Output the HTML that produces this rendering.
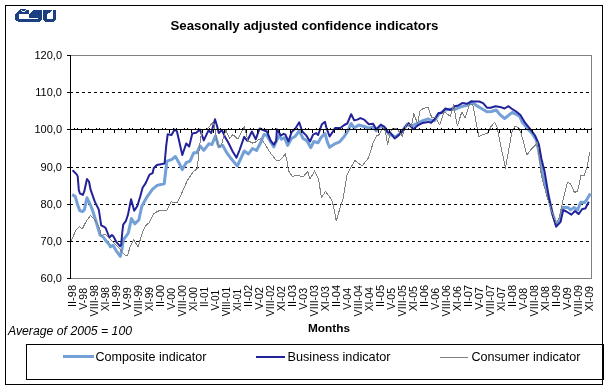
<!DOCTYPE html>
<html><head><meta charset="utf-8"><title>Seasonally adjusted confidence indicators</title>
<style>html,body{margin:0;padding:0;background:#fff;width:609px;height:390px;overflow:hidden}svg{display:block;will-change:transform}text{fill:#000}</style>
</head><body>
<svg width="609" height="390" viewBox="0 0 609 390"><rect x="5.5" y="5.5" width="597" height="379" fill="none" stroke="#000" stroke-width="1"/>
<rect x="20" y="9" width="6" height="1" fill="#1b3f80"/>
<rect x="19" y="10" width="2" height="1" fill="#1b3f80"/>
<rect x="22" y="10" width="3" height="1" fill="#1b3f80"/>
<rect x="26" y="10" width="3" height="1" fill="#1b3f80"/>
<rect x="33" y="10" width="9" height="1" fill="#1b3f80"/>
<rect x="43" y="10" width="9" height="1" fill="#1b3f80"/>
<rect x="53" y="10" width="3" height="1" fill="#1b3f80"/>
<rect x="18" y="11" width="4" height="1" fill="#1b3f80"/>
<rect x="25" y="11" width="4" height="1" fill="#1b3f80"/>
<rect x="32" y="11" width="10" height="1" fill="#1b3f80"/>
<rect x="43" y="11" width="8" height="1" fill="#1b3f80"/>
<rect x="53" y="11" width="3" height="1" fill="#1b3f80"/>
<rect x="17" y="12" width="12" height="1" fill="#1b3f80"/>
<rect x="31" y="12" width="11" height="1" fill="#1b3f80"/>
<rect x="43" y="12" width="7" height="1" fill="#1b3f80"/>
<rect x="53" y="12" width="3" height="1" fill="#1b3f80"/>
<rect x="16" y="13" width="13" height="1" fill="#1b3f80"/>
<rect x="30" y="13" width="12" height="1" fill="#1b3f80"/>
<rect x="43" y="13" width="5" height="1" fill="#1b3f80"/>
<rect x="53" y="13" width="3" height="1" fill="#1b3f80"/>
<rect x="15" y="14" width="4" height="1" fill="#1b3f80"/>
<rect x="29" y="14" width="13" height="1" fill="#1b3f80"/>
<rect x="43" y="14" width="4" height="1" fill="#1b3f80"/>
<rect x="53" y="14" width="3" height="1" fill="#1b3f80"/>
<rect x="15" y="15" width="4" height="1" fill="#1b3f80"/>
<rect x="29" y="15" width="13" height="1" fill="#1b3f80"/>
<rect x="43" y="15" width="4" height="1" fill="#1b3f80"/>
<rect x="53" y="15" width="3" height="1" fill="#1b3f80"/>
<rect x="15" y="16" width="4" height="1" fill="#1b3f80"/>
<rect x="29" y="16" width="13" height="1" fill="#1b3f80"/>
<rect x="43" y="16" width="4" height="1" fill="#1b3f80"/>
<rect x="53" y="16" width="3" height="1" fill="#1b3f80"/>
<rect x="15" y="17" width="4" height="1" fill="#1b3f80"/>
<rect x="29" y="17" width="13" height="1" fill="#1b3f80"/>
<rect x="43" y="17" width="4" height="1" fill="#1b3f80"/>
<rect x="53" y="17" width="3" height="1" fill="#1b3f80"/>
<rect x="15" y="18" width="4" height="1" fill="#1b3f80"/>
<rect x="38" y="18" width="4" height="1" fill="#1b3f80"/>
<rect x="43" y="18" width="4" height="1" fill="#1b3f80"/>
<rect x="53" y="18" width="3" height="1" fill="#1b3f80"/>
<rect x="15" y="19" width="27" height="1" fill="#1b3f80"/>
<rect x="43" y="19" width="13" height="1" fill="#1b3f80"/>
<rect x="16" y="20" width="25" height="1" fill="#1b3f80"/>
<rect x="44" y="20" width="11" height="1" fill="#1b3f80"/>
<rect x="18" y="21" width="22" height="1" fill="#1b3f80"/>
<rect x="45" y="21" width="9" height="1" fill="#1b3f80"/>
<text x="304.5" y="30" text-anchor="middle" textLength="268" lengthAdjust="spacingAndGlyphs" style="font:bold 13.5px 'Liberation Sans'">Seasonally adjusted confidence indicators</text>
<rect x="70.5" y="55.5" width="521" height="223" fill="none" stroke="#808080" stroke-width="1" shape-rendering="crispEdges"/>
<line x1="70" y1="92.5" x2="591" y2="92.5" stroke="#000" stroke-width="1" stroke-dasharray="3 3" shape-rendering="crispEdges"/>
<line x1="70" y1="167.5" x2="591" y2="167.5" stroke="#000" stroke-width="1" stroke-dasharray="3 3" shape-rendering="crispEdges"/>
<line x1="70" y1="204.5" x2="591" y2="204.5" stroke="#000" stroke-width="1" stroke-dasharray="3 3" shape-rendering="crispEdges"/>
<line x1="70" y1="241.5" x2="591" y2="241.5" stroke="#000" stroke-width="1" stroke-dasharray="3 3" shape-rendering="crispEdges"/>
<polyline points="72.1,194.7 75.2,196.3 77.7,205.0 79.8,210.6 82.4,211.7 84.4,209.6 87.0,197.8 89.5,203.0 92.1,209.0 95.0,218.0 100.1,235.0 103.2,237.0 105.3,240.0 109.4,244.7 110.4,246.8 113.0,245.3 116.2,250.8 120.3,256.4 122.3,247.7 123.2,240.0 125.8,236.6 128.3,233.0 131.4,218.6 134.9,223.8 138.8,220.0 141.8,206.2 146.5,197.7 152.6,189.2 157.2,185.4 164.2,183.8 166.9,161.2 171.5,159.6 175.4,156.5 178.5,161.9 182.3,169.6 186.2,162.7 190.0,161.2 193.8,152.7 196.9,152.7 200.0,145.8 203.8,150.4 208.8,143.8 211.9,144.6 215.4,136.0 218.8,146.9 222.7,145.4 226.5,152.3 230.4,157.7 237.3,166.0 244.3,151.0 248.5,154.0 252.4,148.5 256.5,150.5 260.5,143.0 264.0,134.5 266.9,135.4 270.8,142.3 273.8,146.9 276.9,140.0 279.2,135.4 281.5,139.2 284.6,137.7 287.7,145.4 291.5,138.5 295.4,136.2 299.2,130.8 303.1,138.5 306.9,140.8 310.8,147.7 313.8,141.5 318.1,142.7 321.2,137.3 325.0,133.5 327.3,141.9 329.6,147.3 334.2,144.2 339.6,141.9 344.2,136.5 347.3,131.9 351.2,123.5 354.2,128.1 358.8,125.0 364.2,126.5 368.8,128.1 373.1,126.9 376.2,130.8 380.8,126.2 385.4,128.5 388.5,133.8 395.4,136.9 400.8,133.1 406.9,124.6 411.5,126.2 416.2,123.8 422.3,120.8 428.1,118.8 430.0,120.0 434.6,120.8 439.2,113.8 445.4,110.0 450.0,109.2 455.4,109.2 460.8,106.9 466.9,105.4 471.5,101.5 476.2,105.4 481.5,108.5 486.9,111.8 491.5,111.5 496.2,110.0 500.0,114.6 504.6,118.5 508.5,115.4 512.3,112.3 516.9,114.6 520.0,116.9 522.3,122.3 526.9,127.7 532.3,133.8 536.2,140.0 538.5,150.0 542.7,175.0 548.3,195.7 552.3,213.2 556.2,224.3 559.4,221.9 562.6,207.4 567.8,207.4 570.6,209.9 574.0,207.4 577.6,209.9 580.8,202.2 584.5,202.5 586.8,199.6 590.4,193.4" fill="none" stroke="#74a0d8" stroke-width="3" stroke-linejoin="round"/>
<polyline points="72.6,170.3 76.7,174.4 77.7,176.4 78.8,189.7 79.8,193.3 82.9,194.9 84.4,190.8 87.0,179.0 89.0,181.5 90.6,189.7 94.7,201.4 98.8,209.6 101.2,225.3 104.2,226.8 105.8,228.3 107.8,233.5 109.4,237.6 111.9,235.0 113.5,236.5 116.5,242.2 120.1,246.3 121.2,244.7 122.2,233.0 123.2,224.7 125.8,221.2 128.0,214.6 131.1,199.2 134.2,210.8 137.2,206.2 140.3,196.2 142.6,187.7 145.7,183.1 149.5,174.6 152.6,173.1 153.8,168.0 156.9,165.0 160.8,164.2 164.6,163.5 166.2,145.8 167.7,134.2 171.5,135.0 174.6,129.6 176.9,131.2 179.2,141.2 182.3,155.0 186.2,143.5 189.2,146.5 192.3,133.5 196.2,132.7 200.0,129.6 203.8,140.4 208.5,130.4 211.2,133.1 215.0,119.2 217.3,126.9 218.8,133.1 221.9,130.0 225.0,136.9 228.1,142.3 232.7,151.5 236.5,157.7 239.6,150.0 244.2,136.9 247.3,140.8 251.9,131.5 255.8,139.2 259.6,128.5 263.1,130.0 266.9,131.5 270.8,140.8 273.8,144.6 276.2,140.8 276.9,129.2 280.8,135.4 283.8,133.8 285.4,134.6 288.5,141.5 291.5,132.3 295.4,128.5 299.2,122.3 302.3,131.5 306.2,135.4 310.0,141.5 313.1,134.6 316.2,133.1 318.1,135.0 321.9,124.2 325.0,121.9 326.5,128.1 329.6,136.5 332.7,131.9 335.0,128.1 340.4,128.1 344.2,125.0 347.3,123.5 351.2,114.2 354.2,120.4 357.3,119.6 360.4,118.1 364.2,119.6 368.8,124.2 373.1,123.8 376.2,129.2 380.8,124.6 384.6,126.9 387.7,132.3 390.8,133.1 394.6,138.5 398.5,135.4 401.5,132.3 405.4,126.9 408.5,123.1 413.1,129.2 417.7,125.4 422.3,123.1 428.1,121.9 431.2,122.7 434.6,119.2 438.5,113.0 441.5,113.0 445.4,108.5 450.8,110.0 454.6,106.2 458.5,105.4 462.3,103.1 466.9,103.8 471.5,101.5 479.2,101.5 483.1,103.1 486.9,107.7 490.8,107.7 495.4,106.2 500.0,106.9 504.6,108.5 508.5,106.2 512.3,109.2 516.2,111.5 520.4,115.0 525.0,122.7 531.2,130.4 535.0,135.5 538.8,144.2 541.4,158.8 544.5,171.2 549.1,198.8 553.0,216.3 556.2,226.7 560.6,221.8 563.2,210.0 566.3,211.5 571.4,214.6 575.0,211.0 578.6,214.1 582.2,209.0 585.3,208.5 588.8,201.8" fill="none" stroke="#22229a" stroke-width="2" stroke-linejoin="round"/>
<polyline points="71.1,241.0 76.2,229.7 79.3,226.7 82.4,228.7 85.4,222.6 90.6,215.3 93.6,218.5 97.7,224.0 99.6,228.3 101.2,236.0 104.7,234.0 107.8,237.0 111.4,240.6 115.5,244.7 119.6,248.8 124.7,255.0 127.4,255.9 130.5,245.6 133.6,240.0 138.2,246.7 142.3,232.8 145.4,226.2 149.5,222.3 153.4,213.8 158.8,210.8 166.5,210.8 171.1,201.5 174.2,203.0 177.2,202.3 181.1,194.6 187.2,180.8 193.3,171.7 197.5,168.3 198.3,156.7 200.8,136.7 202.5,129.2 206.7,129.0 210.0,125.8 212.5,122.5 214.5,126.0 217.7,144.6 220.4,146.9 221.9,143.1 225.8,130.0 229.6,138.5 232.7,134.6 238.1,139.2 244.2,126.9 248.1,140.8 252.7,143.1 255.0,142.3 260.4,138.5 262.7,140.8 265.8,145.4 270.4,153.0 276.5,160.8 280.4,160.0 285.4,153.8 286.9,160.8 288.5,170.8 292.3,176.2 298.5,175.4 303.1,176.9 307.7,171.5 310.0,179.2 314.6,170.8 318.5,179.2 321.5,197.7 325.4,191.5 329.2,196.2 332.3,201.5 333.8,207.7 336.3,221.0 339.2,210.8 343.1,198.5 346.9,175.4 350.8,167.7 355.0,160.5 362.0,166.0 368.5,158.0 373.1,143.1 376.2,136.2 379.2,134.6 383.1,126.9 385.4,131.5 387.7,144.6 390.0,132.3 393.1,128.5 396.9,128.5 402.3,136.2 406.9,123.1 411.5,126.2 413.8,113.8 417.7,123.8 420.0,110.8 423.1,108.5 428.1,107.3 431.9,118.1 435.8,117.3 439.6,125.0 444.2,111.9 450.4,116.5 453.5,105.0 457.3,125.8 461.9,111.9 465.0,118.1 469.6,104.2 472.7,104.2 475.8,120.4 478.8,136.5 484.2,134.2 487.7,133.1 490.8,126.9 494.6,122.3 497.0,127.0 505.4,168.1 512.3,130.0 515.4,126.2 519.2,128.5 521.5,134.6 526.9,155.0 530.0,150.7 537.5,142.7 539.1,155.8 541.4,175.8 547.5,198.8 552.3,213.2 556.2,223.5 559.4,217.1 562.6,202.0 567.4,182.2 570.5,183.7 574.5,192.5 577.7,190.9 580.9,175.8 584.1,175.3 587.2,166.6 589.6,152.3" fill="none" stroke="#808080" stroke-width="1" stroke-linejoin="round" shape-rendering="crispEdges"/>
<line x1="70" y1="129.5" x2="592" y2="129.5" stroke="#000" stroke-width="1" shape-rendering="crispEdges"/>
<rect x="74" y="128" width="1" height="1" fill="#000"/>
<rect x="77" y="128" width="1" height="1" fill="#000"/>
<rect x="81" y="130" width="1" height="3" fill="#000"/>
<rect x="85" y="128" width="1" height="1" fill="#000"/>
<rect x="88" y="128" width="1" height="1" fill="#000"/>
<rect x="92" y="130" width="1" height="3" fill="#000"/>
<rect x="96" y="128" width="1" height="1" fill="#000"/>
<rect x="99" y="128" width="1" height="1" fill="#000"/>
<rect x="103" y="130" width="1" height="3" fill="#000"/>
<rect x="107" y="128" width="1" height="1" fill="#000"/>
<rect x="110" y="128" width="1" height="1" fill="#000"/>
<rect x="114" y="130" width="1" height="3" fill="#000"/>
<rect x="118" y="128" width="1" height="1" fill="#000"/>
<rect x="121" y="128" width="1" height="1" fill="#000"/>
<rect x="125" y="130" width="1" height="3" fill="#000"/>
<rect x="129" y="128" width="1" height="1" fill="#000"/>
<rect x="132" y="128" width="1" height="1" fill="#000"/>
<rect x="136" y="130" width="1" height="3" fill="#000"/>
<rect x="140" y="128" width="1" height="1" fill="#000"/>
<rect x="143" y="128" width="1" height="1" fill="#000"/>
<rect x="147" y="130" width="1" height="3" fill="#000"/>
<rect x="151" y="128" width="1" height="1" fill="#000"/>
<rect x="154" y="128" width="1" height="1" fill="#000"/>
<rect x="158" y="130" width="1" height="3" fill="#000"/>
<rect x="162" y="128" width="1" height="1" fill="#000"/>
<rect x="165" y="128" width="1" height="1" fill="#000"/>
<rect x="169" y="130" width="1" height="3" fill="#000"/>
<rect x="173" y="128" width="1" height="1" fill="#000"/>
<rect x="176" y="128" width="1" height="1" fill="#000"/>
<rect x="180" y="130" width="1" height="3" fill="#000"/>
<rect x="184" y="128" width="1" height="1" fill="#000"/>
<rect x="187" y="128" width="1" height="1" fill="#000"/>
<rect x="191" y="130" width="1" height="3" fill="#000"/>
<rect x="195" y="128" width="1" height="1" fill="#000"/>
<rect x="198" y="128" width="1" height="1" fill="#000"/>
<rect x="202" y="130" width="1" height="3" fill="#000"/>
<rect x="206" y="128" width="1" height="1" fill="#000"/>
<rect x="209" y="128" width="1" height="1" fill="#000"/>
<rect x="213" y="130" width="1" height="3" fill="#000"/>
<rect x="217" y="128" width="1" height="1" fill="#000"/>
<rect x="220" y="128" width="1" height="1" fill="#000"/>
<rect x="224" y="130" width="1" height="3" fill="#000"/>
<rect x="228" y="128" width="1" height="1" fill="#000"/>
<rect x="231" y="128" width="1" height="1" fill="#000"/>
<rect x="235" y="130" width="1" height="3" fill="#000"/>
<rect x="239" y="128" width="1" height="1" fill="#000"/>
<rect x="242" y="128" width="1" height="1" fill="#000"/>
<rect x="246" y="130" width="1" height="3" fill="#000"/>
<rect x="250" y="128" width="1" height="1" fill="#000"/>
<rect x="253" y="128" width="1" height="1" fill="#000"/>
<rect x="257" y="130" width="1" height="3" fill="#000"/>
<rect x="261" y="128" width="1" height="1" fill="#000"/>
<rect x="264" y="128" width="1" height="1" fill="#000"/>
<rect x="268" y="130" width="1" height="3" fill="#000"/>
<rect x="272" y="128" width="1" height="1" fill="#000"/>
<rect x="275" y="128" width="1" height="1" fill="#000"/>
<rect x="279" y="130" width="1" height="3" fill="#000"/>
<rect x="283" y="128" width="1" height="1" fill="#000"/>
<rect x="286" y="128" width="1" height="1" fill="#000"/>
<rect x="290" y="130" width="1" height="3" fill="#000"/>
<rect x="294" y="128" width="1" height="1" fill="#000"/>
<rect x="297" y="128" width="1" height="1" fill="#000"/>
<rect x="301" y="130" width="1" height="3" fill="#000"/>
<rect x="305" y="128" width="1" height="1" fill="#000"/>
<rect x="308" y="128" width="1" height="1" fill="#000"/>
<rect x="312" y="130" width="1" height="3" fill="#000"/>
<rect x="316" y="128" width="1" height="1" fill="#000"/>
<rect x="319" y="128" width="1" height="1" fill="#000"/>
<rect x="323" y="130" width="1" height="3" fill="#000"/>
<rect x="327" y="128" width="1" height="1" fill="#000"/>
<rect x="330" y="128" width="1" height="1" fill="#000"/>
<rect x="334" y="130" width="1" height="3" fill="#000"/>
<rect x="338" y="128" width="1" height="1" fill="#000"/>
<rect x="342" y="128" width="1" height="1" fill="#000"/>
<rect x="345" y="130" width="1" height="3" fill="#000"/>
<rect x="349" y="128" width="1" height="1" fill="#000"/>
<rect x="353" y="128" width="1" height="1" fill="#000"/>
<rect x="356" y="130" width="1" height="3" fill="#000"/>
<rect x="360" y="128" width="1" height="1" fill="#000"/>
<rect x="364" y="128" width="1" height="1" fill="#000"/>
<rect x="367" y="130" width="1" height="3" fill="#000"/>
<rect x="371" y="128" width="1" height="1" fill="#000"/>
<rect x="375" y="128" width="1" height="1" fill="#000"/>
<rect x="378" y="130" width="1" height="3" fill="#000"/>
<rect x="382" y="128" width="1" height="1" fill="#000"/>
<rect x="386" y="128" width="1" height="1" fill="#000"/>
<rect x="389" y="130" width="1" height="3" fill="#000"/>
<rect x="393" y="128" width="1" height="1" fill="#000"/>
<rect x="397" y="128" width="1" height="1" fill="#000"/>
<rect x="400" y="130" width="1" height="3" fill="#000"/>
<rect x="404" y="128" width="1" height="1" fill="#000"/>
<rect x="408" y="128" width="1" height="1" fill="#000"/>
<rect x="411" y="130" width="1" height="3" fill="#000"/>
<rect x="415" y="128" width="1" height="1" fill="#000"/>
<rect x="419" y="128" width="1" height="1" fill="#000"/>
<rect x="422" y="130" width="1" height="3" fill="#000"/>
<rect x="426" y="128" width="1" height="1" fill="#000"/>
<rect x="430" y="128" width="1" height="1" fill="#000"/>
<rect x="433" y="130" width="1" height="3" fill="#000"/>
<rect x="437" y="128" width="1" height="1" fill="#000"/>
<rect x="441" y="128" width="1" height="1" fill="#000"/>
<rect x="444" y="130" width="1" height="3" fill="#000"/>
<rect x="448" y="128" width="1" height="1" fill="#000"/>
<rect x="452" y="128" width="1" height="1" fill="#000"/>
<rect x="455" y="130" width="1" height="3" fill="#000"/>
<rect x="459" y="128" width="1" height="1" fill="#000"/>
<rect x="463" y="128" width="1" height="1" fill="#000"/>
<rect x="466" y="130" width="1" height="3" fill="#000"/>
<rect x="470" y="128" width="1" height="1" fill="#000"/>
<rect x="474" y="128" width="1" height="1" fill="#000"/>
<rect x="477" y="130" width="1" height="3" fill="#000"/>
<rect x="481" y="128" width="1" height="1" fill="#000"/>
<rect x="485" y="128" width="1" height="1" fill="#000"/>
<rect x="488" y="130" width="1" height="3" fill="#000"/>
<rect x="492" y="128" width="1" height="1" fill="#000"/>
<rect x="496" y="128" width="1" height="1" fill="#000"/>
<rect x="499" y="130" width="1" height="3" fill="#000"/>
<rect x="503" y="128" width="1" height="1" fill="#000"/>
<rect x="507" y="128" width="1" height="1" fill="#000"/>
<rect x="510" y="130" width="1" height="3" fill="#000"/>
<rect x="514" y="128" width="1" height="1" fill="#000"/>
<rect x="518" y="128" width="1" height="1" fill="#000"/>
<rect x="521" y="130" width="1" height="3" fill="#000"/>
<rect x="525" y="128" width="1" height="1" fill="#000"/>
<rect x="529" y="128" width="1" height="1" fill="#000"/>
<rect x="532" y="130" width="1" height="3" fill="#000"/>
<rect x="536" y="128" width="1" height="1" fill="#000"/>
<rect x="540" y="128" width="1" height="1" fill="#000"/>
<rect x="543" y="130" width="1" height="3" fill="#000"/>
<rect x="547" y="128" width="1" height="1" fill="#000"/>
<rect x="551" y="128" width="1" height="1" fill="#000"/>
<rect x="554" y="130" width="1" height="3" fill="#000"/>
<rect x="558" y="128" width="1" height="1" fill="#000"/>
<rect x="562" y="128" width="1" height="1" fill="#000"/>
<rect x="565" y="130" width="1" height="3" fill="#000"/>
<rect x="569" y="128" width="1" height="1" fill="#000"/>
<rect x="573" y="128" width="1" height="1" fill="#000"/>
<rect x="576" y="130" width="1" height="3" fill="#000"/>
<rect x="580" y="128" width="1" height="1" fill="#000"/>
<rect x="584" y="128" width="1" height="1" fill="#000"/>
<rect x="587" y="130" width="1" height="3" fill="#000"/>
<rect x="591" y="128" width="1" height="1" fill="#000"/>
<rect x="70" y="55" width="1" height="224" fill="#000"/>
<rect x="67" y="55" width="3" height="1" fill="#000"/>
<text x="62" y="59" text-anchor="end" style="font:11px 'Liberation Sans'">120,0</text>
<rect x="67" y="92" width="3" height="1" fill="#000"/>
<text x="62" y="96" text-anchor="end" style="font:11px 'Liberation Sans'">110,0</text>
<rect x="67" y="129" width="3" height="1" fill="#000"/>
<text x="62" y="133" text-anchor="end" style="font:11px 'Liberation Sans'">100,0</text>
<rect x="67" y="167" width="3" height="1" fill="#000"/>
<text x="62" y="171" text-anchor="end" style="font:11px 'Liberation Sans'">90,0</text>
<rect x="67" y="204" width="3" height="1" fill="#000"/>
<text x="62" y="208" text-anchor="end" style="font:11px 'Liberation Sans'">80,0</text>
<rect x="67" y="241" width="3" height="1" fill="#000"/>
<text x="62" y="245" text-anchor="end" style="font:11px 'Liberation Sans'">70,0</text>
<rect x="67" y="278" width="3" height="1" fill="#000"/>
<text x="62" y="282" text-anchor="end" style="font:11px 'Liberation Sans'">60,0</text>
<text transform="translate(75.83,285) rotate(-90) scale(1.000,1)" text-anchor="end" style="font:11px 'Liberation Sans'">II-98</text>
<text transform="translate(86.84,288) rotate(-90) scale(0.957,1)" text-anchor="end" style="font:11px 'Liberation Sans'">V-98</text>
<text transform="translate(97.85,285) rotate(-90) scale(0.969,1)" text-anchor="end" style="font:11px 'Liberation Sans'">VIII-98</text>
<text transform="translate(108.86,287) rotate(-90) scale(0.923,1)" text-anchor="end" style="font:11px 'Liberation Sans'">XI-98</text>
<text transform="translate(119.86,285) rotate(-90) scale(1.000,1)" text-anchor="end" style="font:11px 'Liberation Sans'">II-99</text>
<text transform="translate(130.87,287) rotate(-90) scale(1.000,1)" text-anchor="end" style="font:11px 'Liberation Sans'">V-99</text>
<text transform="translate(141.88,285) rotate(-90) scale(0.969,1)" text-anchor="end" style="font:11px 'Liberation Sans'">VIII-99</text>
<text transform="translate(152.88,287) rotate(-90) scale(0.923,1)" text-anchor="end" style="font:11px 'Liberation Sans'">XI-99</text>
<text transform="translate(163.89,285) rotate(-90) scale(1.000,1)" text-anchor="end" style="font:11px 'Liberation Sans'">II-00</text>
<text transform="translate(174.90,288) rotate(-90) scale(0.957,1)" text-anchor="end" style="font:11px 'Liberation Sans'">V-00</text>
<text transform="translate(185.90,285) rotate(-90) scale(0.969,1)" text-anchor="end" style="font:11px 'Liberation Sans'">VIII-00</text>
<text transform="translate(196.91,287) rotate(-90) scale(0.923,1)" text-anchor="end" style="font:11px 'Liberation Sans'">XI-00</text>
<text transform="translate(207.92,287) rotate(-90) scale(0.905,1)" text-anchor="end" style="font:11px 'Liberation Sans'">II-01</text>
<text transform="translate(218.93,290) rotate(-90) scale(0.909,1)" text-anchor="end" style="font:11px 'Liberation Sans'">V-01</text>
<text transform="translate(229.93,287) rotate(-90) scale(0.906,1)" text-anchor="end" style="font:11px 'Liberation Sans'">VIII-01</text>
<text transform="translate(240.94,289) rotate(-90) scale(0.846,1)" text-anchor="end" style="font:11px 'Liberation Sans'">XI-01</text>
<text transform="translate(251.95,285) rotate(-90) scale(1.000,1)" text-anchor="end" style="font:11px 'Liberation Sans'">II-02</text>
<text transform="translate(262.95,287) rotate(-90) scale(1.000,1)" text-anchor="end" style="font:11px 'Liberation Sans'">V-02</text>
<text transform="translate(273.96,285) rotate(-90) scale(0.969,1)" text-anchor="end" style="font:11px 'Liberation Sans'">VIII-02</text>
<text transform="translate(284.97,286) rotate(-90) scale(0.962,1)" text-anchor="end" style="font:11px 'Liberation Sans'">XI-02</text>
<text transform="translate(295.98,285) rotate(-90) scale(1.000,1)" text-anchor="end" style="font:11px 'Liberation Sans'">II-03</text>
<text transform="translate(306.98,288) rotate(-90) scale(0.957,1)" text-anchor="end" style="font:11px 'Liberation Sans'">V-03</text>
<text transform="translate(317.99,285) rotate(-90) scale(0.969,1)" text-anchor="end" style="font:11px 'Liberation Sans'">VIII-03</text>
<text transform="translate(329.00,286) rotate(-90) scale(0.962,1)" text-anchor="end" style="font:11px 'Liberation Sans'">XI-03</text>
<text transform="translate(340.00,285) rotate(-90) scale(1.000,1)" text-anchor="end" style="font:11px 'Liberation Sans'">II-04</text>
<text transform="translate(351.01,288) rotate(-90) scale(0.957,1)" text-anchor="end" style="font:11px 'Liberation Sans'">V-04</text>
<text transform="translate(362.02,285) rotate(-90) scale(0.969,1)" text-anchor="end" style="font:11px 'Liberation Sans'">VIII-04</text>
<text transform="translate(373.02,287) rotate(-90) scale(0.923,1)" text-anchor="end" style="font:11px 'Liberation Sans'">XI-04</text>
<text transform="translate(384.03,285) rotate(-90) scale(1.000,1)" text-anchor="end" style="font:11px 'Liberation Sans'">II-05</text>
<text transform="translate(395.04,288) rotate(-90) scale(0.957,1)" text-anchor="end" style="font:11px 'Liberation Sans'">V-05</text>
<text transform="translate(406.05,285) rotate(-90) scale(0.969,1)" text-anchor="end" style="font:11px 'Liberation Sans'">VIII-05</text>
<text transform="translate(417.05,286) rotate(-90) scale(0.962,1)" text-anchor="end" style="font:11px 'Liberation Sans'">XI-05</text>
<text transform="translate(428.06,285) rotate(-90) scale(1.000,1)" text-anchor="end" style="font:11px 'Liberation Sans'">II-06</text>
<text transform="translate(439.07,288) rotate(-90) scale(0.957,1)" text-anchor="end" style="font:11px 'Liberation Sans'">V-06</text>
<text transform="translate(450.07,285) rotate(-90) scale(0.969,1)" text-anchor="end" style="font:11px 'Liberation Sans'">VIII-06</text>
<text transform="translate(461.08,286) rotate(-90) scale(0.962,1)" text-anchor="end" style="font:11px 'Liberation Sans'">XI-06</text>
<text transform="translate(472.09,285) rotate(-90) scale(1.000,1)" text-anchor="end" style="font:11px 'Liberation Sans'">II-07</text>
<text transform="translate(483.10,287) rotate(-90) scale(1.000,1)" text-anchor="end" style="font:11px 'Liberation Sans'">V-07</text>
<text transform="translate(494.10,285) rotate(-90) scale(0.969,1)" text-anchor="end" style="font:11px 'Liberation Sans'">VIII-07</text>
<text transform="translate(505.11,287) rotate(-90) scale(0.923,1)" text-anchor="end" style="font:11px 'Liberation Sans'">XI-07</text>
<text transform="translate(516.12,285) rotate(-90) scale(1.000,1)" text-anchor="end" style="font:11px 'Liberation Sans'">II-08</text>
<text transform="translate(527.12,288) rotate(-90) scale(0.957,1)" text-anchor="end" style="font:11px 'Liberation Sans'">V-08</text>
<text transform="translate(538.13,285) rotate(-90) scale(0.969,1)" text-anchor="end" style="font:11px 'Liberation Sans'">VIII-08</text>
<text transform="translate(549.14,286) rotate(-90) scale(0.962,1)" text-anchor="end" style="font:11px 'Liberation Sans'">XI-08</text>
<text transform="translate(560.14,285) rotate(-90) scale(1.000,1)" text-anchor="end" style="font:11px 'Liberation Sans'">II-09</text>
<text transform="translate(571.15,287) rotate(-90) scale(1.000,1)" text-anchor="end" style="font:11px 'Liberation Sans'">V-09</text>
<text transform="translate(582.16,285) rotate(-90) scale(0.969,1)" text-anchor="end" style="font:11px 'Liberation Sans'">VIII-09</text>
<text transform="translate(593.17,286) rotate(-90) scale(0.962,1)" text-anchor="end" style="font:11px 'Liberation Sans'">XI-09</text>
<text x="329" y="332" text-anchor="middle" textLength="42" lengthAdjust="spacingAndGlyphs" style="font:bold 11.5px 'Liberation Sans'">Months</text>
<text x="8" y="335" textLength="124" lengthAdjust="spacingAndGlyphs" style="font:italic 12px 'Liberation Sans'">Average of 2005 = 100</text>
<rect x="26.5" y="344.5" width="576" height="35" fill="#fff" stroke="#000" stroke-width="1" shape-rendering="crispEdges"/>
<rect x="603" y="344" width="1" height="36" fill="#000"/>
<rect x="63" y="355" width="31" height="3" fill="#74a0d8"/>
<text x="95.5" y="361" textLength="111" lengthAdjust="spacingAndGlyphs" style="font:12.4px 'Liberation Sans'">Composite indicator</text>
<rect x="256" y="356" width="29" height="2" fill="#22229a"/>
<text x="287.5" y="361" textLength="103" lengthAdjust="spacingAndGlyphs" style="font:12.4px 'Liberation Sans'">Business indicator</text>
<rect x="440" y="357" width="28" height="1" fill="#808080"/>
<text x="471.5" y="361" textLength="109" lengthAdjust="spacingAndGlyphs" style="font:12.4px 'Liberation Sans'">Consumer indicator</text></svg>
</body></html>
